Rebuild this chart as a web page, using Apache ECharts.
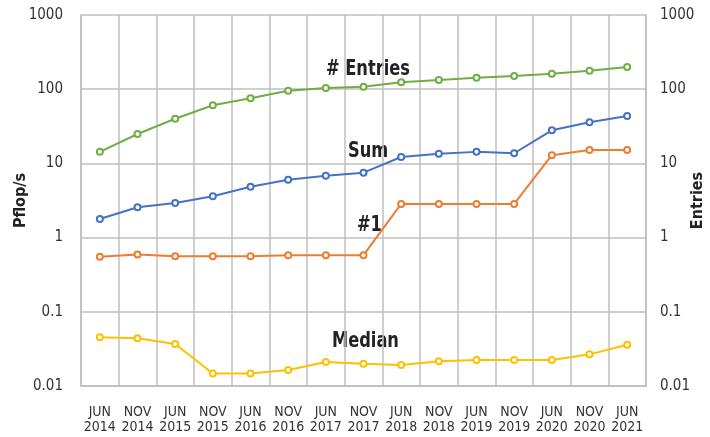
<!DOCTYPE html>
<html>
<head>
<meta charset="utf-8">
<script src="https://cdn.jsdelivr.net/npm/echarts@6/dist/echarts.min.js"></script>
<style>
  html, body { margin: 0; padding: 0; background: #fff; }
  #chart { width: 710px; height: 437px; }
</style>
</head>
<body>
<div id="chart"></div>
<script>
// categories along the bottom
var categories = [
  'JUN\n2014', 'NOV\n2014', 'JUN\n2015', 'NOV\n2015', 'JUN\n2016',
  'NOV\n2016', 'JUN\n2017', 'NOV\n2017', 'JUN\n2018', 'NOV\n2018',
  'JUN\n2019', 'NOV\n2019', 'JUN\n2020', 'NOV\n2020', 'JUN\n2021'
]
// values (log scale)
var entries = [14.3, 24.9, 40, 60.7, 75.4, 95.5, 104, 108, 124, 133, 143, 151, 162, 177, 199]
var sum = [1.78, 2.56, 2.92, 3.6, 4.85, 6.03, 6.83, 7.5, 12.2, 13.5, 14.3, 13.7, 27.9, 35.8, 43.6]
var top1 = [0.553, 0.594, 0.56, 0.56, 0.56, 0.58, 0.58, 0.58, 2.84, 2.84, 2.84, 2.84, 12.9, 15.2, 15.2]
var median = [0.0453, 0.044, 0.0368, 0.0147, 0.0147, 0.0164, 0.021, 0.02, 0.0192, 0.0215, 0.0224, 0.0224, 0.0224, 0.0267, 0.036]

var font = "'DejaVu Sans Condensed', 'Roboto', sans-serif"
var gridColor = '#bfbfbf'

var chart = echarts.init(document.getElementById('chart'))

function yAxis(name, pos) {
  return {
    type: 'log',
    logBase: 10,
    min: 0.01,
    max: 1000,
    position: pos,
    name: name,
    nameLocation: 'middle',
    nameRotate: 90,
    nameGap: pos == 'left' ? 52 : 44,
    nameMoveOverlap: false,
    nameTextStyle: { fontFamily: font, fontWeight: 'bold', fontSize: 16, color: '#222' },
    axisLine: { show: true, lineStyle: { color: gridColor, width: 1.5 } },
    axisTick: { show: false },
    axisLabel: {
      margin: pos == 'left' ? 18 : 14,
      fontFamily: font, fontSize: 15, color: '#333',
      formatter: function (v) { return String(+v.toPrecision(6)) }
    },
    splitLine: { show: pos == 'left', lineStyle: { color: gridColor, width: 1.5 } }
  }
}

function line(name, data, color, axis) {
  return {
    name: name,
    type: 'line',
    data: data,
    yAxisIndex: axis || 0,
    symbol: 'emptyCircle',
    symbolSize: 6,
    lineStyle: { color: color, width: 2 },
    itemStyle: { color: color, borderWidth: 1.5 }
  }
}

// series names written inside the plot
function tag(text, x, y) {
  return {
    type: 'text',
    x: x,
    y: y,
    scaleX: 0.86,
    style: { text: text, fontFamily: font, fontWeight: 'bold', fontSize: 21, fill: '#222' }
  }
}

chart.setOption({
  animation: false,
  grid: { left: 81, right: 64, top: 15, bottom: 51, outerBoundsMode: 'none', containLabel: false },
  xAxis: {
    type: 'category',
    data: categories,
    boundaryGap: true,
    axisLine: { lineStyle: { color: gridColor, width: 1.5 } },
    axisTick: { show: false },
    axisLabel: { margin: 19, fontFamily: font, fontSize: 14, lineHeight: 15, color: '#333', interval: 0 },
    splitLine: { show: true, interval: 0, lineStyle: { color: gridColor, width: 1.5 } }
  },
  yAxis: [yAxis('Pflop/s', 'left'), yAxis('Entries', 'right')],
  series: [
    line('# Entries', entries, '#70ad47', 1),
    line('Sum', sum, '#4472c4'),
    line('#1', top1, '#ed7d31'),
    line('Median', median, '#ffc000')
  ],
  graphic: [
    tag('# Entries', 326, 59),
    tag('Sum', 348, 141),
    tag('#1', 357, 215),
    tag('Median', 332, 331)
  ]
})
</script>
</body>
</html>
